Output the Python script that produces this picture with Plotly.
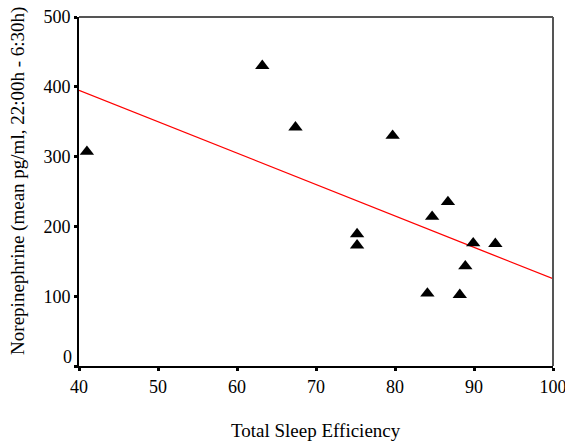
import plotly.graph_objects as go

# Data
sleep_eff = [41.0, 63.2, 67.4, 79.7, 86.7, 84.7, 75.2, 75.2, 89.9, 92.7, 88.9, 84.1, 88.2]
norepi = [307, 430, 342, 330, 235, 214, 189, 173, 176, 175, 143, 104, 102]

fit_x = [40, 100]
fit_y = [395, 125]

x_ticks = [40, 50, 60, 70, 80, 90, 100]
y_ticks = [0, 100, 200, 300, 400, 500]
y_ticktext = ["", "100", "200", "300", "400", "500"]

FONT = "Liberation Serif"
TICK_SIZE = 18
TITLE_SIZE = 19

fig = go.Figure()
fig.add_trace(go.Scatter(
    x=fit_x, y=fit_y, mode="lines",
    line=dict(color="#ff0000", width=1.3),
    hoverinfo="skip", showlegend=False,
))
fig.add_trace(go.Scatter(
    x=sleep_eff, y=norepi, mode="markers",
    marker=dict(symbol="triangle-up", size=12.5, color="black"),
    showlegend=False,
))

fig.update_layout(
    width=565, height=442,
    margin=dict(l=79, r=12, t=17, b=76),
    paper_bgcolor="white", plot_bgcolor="white",
    font=dict(family=FONT, size=TICK_SIZE, color="black"),
    showlegend=False,
    xaxis=dict(
        range=[40, 100], tickvals=x_ticks, ticktext=[str(v) for v in x_ticks],
        showgrid=False, zeroline=False, automargin=False,
        ticklabeloverflow="allow",
        showline=True, linecolor="black", linewidth=2,
        ticks="outside", ticklen=3, tickwidth=3, tickcolor="black",
        tickfont=dict(family=FONT, size=TICK_SIZE),
    ),
    yaxis=dict(
        range=[0, 500], tickvals=y_ticks, ticktext=y_ticktext,
        showgrid=False, zeroline=False, automargin=False,
        ticklabeloverflow="allow",
        showline=True, linecolor="black", linewidth=2,
        ticks="outside", ticklen=3, tickwidth=3, tickcolor="black",
        tickfont=dict(family=FONT, size=TICK_SIZE),
    ),
    shapes=[
        dict(type="line", xref="paper", yref="paper", x0=0, x1=1, y0=1, y1=1,
             line=dict(color="#555555", width=2)),
        dict(type="line", xref="paper", yref="paper", x0=1, x1=1, y0=0, y1=1,
             line=dict(color="#555555", width=2)),
    ],
    annotations=[
        dict(text="0", x=0, y=0, xref="paper", yref="y", xanchor="right",
             yanchor="middle", xshift=-5, yshift=9, showarrow=False,
             font=dict(family=FONT, size=TICK_SIZE)),
        dict(text="Total Sleep Efficiency", x=0.5, y=-0.185, xref="paper", yref="paper",
             xanchor="center", yanchor="middle", showarrow=False,
             font=dict(family=FONT, size=TITLE_SIZE)),
        dict(text="Norepinephrine (mean pg/ml, 22:00h - 6:30h)", x=-0.129, y=0.53,
             xref="paper", yref="paper", xanchor="center", yanchor="middle",
             textangle=-90, showarrow=False, font=dict(family=FONT, size=TITLE_SIZE)),
    ],
)

fig.write_html("out.html", config={"displayModeBar": False},
               post_script="document.body.style.margin='0px';")
